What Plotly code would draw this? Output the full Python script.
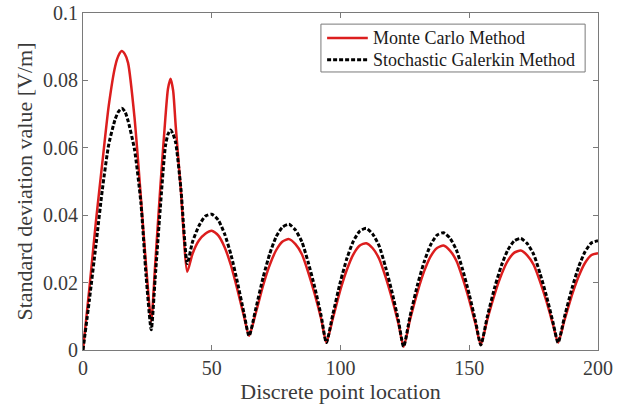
import plotly.graph_objects as go

# ---- data ----
x_points = [0, 2.5, 5, 7.5, 10, 12.5, 13.75, 15, 16.25, 17.5, 20, 22.5, 24.5, 26.5,
            28, 30, 32, 33, 34, 35, 36, 38, 40.5,
            42.5, 45, 47.5, 50, 52.5, 55, 57.5, 60, 62.5, 64.5,
            67, 70, 72.5, 75, 77.5, 80, 82.5, 85, 87.5, 90, 92.5, 94.5,
            97, 100, 102.5, 105, 107.5, 110, 112.5, 115, 117.5, 120, 122.5, 124.5,
            127, 130, 132.5, 135, 137.5, 140, 142.5, 145, 147.5, 150, 152.5, 154.5,
            157, 160, 162.5, 165, 167.5, 170, 172.5, 175, 177.5, 180, 182.5, 184.5,
            187, 190, 192.5, 195, 197.5, 200]

monte_carlo = [0, 0.0185, 0.038, 0.0555, 0.0725, 0.0842, 0.0873, 0.0887, 0.0878, 0.0852, 0.069, 0.045, 0.025, 0.0085,
               0.025, 0.048, 0.069, 0.0775, 0.0805, 0.077, 0.0665, 0.0475, 0.0232,
               0.0285, 0.0325, 0.0345, 0.0354, 0.0340, 0.0305, 0.0250, 0.0178, 0.0100, 0.0042,
               0.0107, 0.0193, 0.0252, 0.0296, 0.0322, 0.0329, 0.0314, 0.0284, 0.0230, 0.0166, 0.0092, 0.0022,
               0.0093, 0.0180, 0.0239, 0.0284, 0.0310, 0.0317, 0.0302, 0.0271, 0.0217, 0.0152, 0.0078, 0.0010,
               0.0090, 0.0175, 0.0234, 0.0278, 0.0303, 0.0310, 0.0295, 0.0265, 0.0212, 0.0148, 0.0075, 0.0015,
               0.0090, 0.0169, 0.0224, 0.0265, 0.0289, 0.0295, 0.0281, 0.0253, 0.0203, 0.0144, 0.0076, 0.0022,
               0.0089, 0.0166, 0.0219, 0.0259, 0.0282, 0.0287]

stochastic_galerkin = [0, 0.0150, 0.031, 0.0475, 0.061, 0.0685, 0.0707, 0.0717, 0.0708, 0.068, 0.0595, 0.0435, 0.022, 0.006,
                       0.021, 0.042, 0.0605, 0.064, 0.0653, 0.064, 0.0615, 0.048, 0.0257,
                       0.032, 0.0368, 0.0397, 0.0403, 0.0386, 0.0344, 0.0282, 0.0200, 0.0110, 0.0042,
                       0.0119, 0.0217, 0.0285, 0.0336, 0.0365, 0.0373, 0.0356, 0.0321, 0.0259, 0.0186, 0.0101, 0.0022,
                       0.0105, 0.0204, 0.0272, 0.0323, 0.0353, 0.0361, 0.0344, 0.0309, 0.0246, 0.0172, 0.0087, 0.0010,
                       0.0100, 0.0196, 0.0262, 0.0312, 0.0341, 0.0348, 0.0332, 0.0297, 0.0237, 0.0165, 0.0083, 0.0015,
                       0.0099, 0.0189, 0.0251, 0.0297, 0.0324, 0.0331, 0.0316, 0.0284, 0.0227, 0.0160, 0.0083, 0.0022,
                       0.0099, 0.0186, 0.0247, 0.0292, 0.0318, 0.0324]

x_tick_values = [0, 50, 100, 150, 200]
x_tick_labels = ["0", "50", "100", "150", "200"]
y_tick_values = [0, 0.02, 0.04, 0.06, 0.08, 0.1]
y_tick_labels = ["0", "0.02", "0.04", "0.06", "0.08", "0.1"]

series_names = ["Monte Carlo Method", "Stochastic Galerkin Method"]

FONT = "Liberation Serif, Times New Roman, serif"
AXIS_GRAY = "#7a7a7a"
TEXT_GRAY = "#3a3a3a"
MC_COLOR = "#dc1e1e"
SG_COLOR = "#000000"
SG_DASH = "4px,2px"

fig = go.Figure()
fig.add_trace(go.Scatter(x=x_points, y=monte_carlo, mode="lines", name=series_names[0],
                         line=dict(color=MC_COLOR, width=2.5, shape="spline", smoothing=0.6)))
fig.add_trace(go.Scatter(x=x_points, y=stochastic_galerkin, mode="lines", name=series_names[1],
                         line=dict(color=SG_COLOR, width=3, dash=SG_DASH, shape="spline", smoothing=0.6)))

axis_common = dict(showline=True, linecolor=AXIS_GRAY, linewidth=1, mirror="ticks",
                   ticks="inside", ticklen=5, tickcolor=AXIS_GRAY, tickwidth=1,
                   showgrid=False, zeroline=False,
                   tickfont=dict(family=FONT, size=20, color=TEXT_GRAY))

fig.update_xaxes(range=[0, 200], tickvals=x_tick_values, ticktext=x_tick_labels,
                 title=dict(text="Discrete point location", font=dict(family=FONT, size=22, color=TEXT_GRAY),
                            standoff=2),
                 **axis_common)
fig.update_yaxes(range=[0, 0.1], tickvals=y_tick_values, ticktext=y_tick_labels,
                 title=dict(text="Standard deviation value [V/m]", font=dict(family=FONT, size=22, color=TEXT_GRAY),
                            standoff=4),
                 **axis_common)

# hand-built legend box (paper coordinates = plot area fractions)
leg_x0, leg_x1, leg_y0, leg_y1 = 0.462, 0.975, 0.825, 0.967
row_y = [0.926, 0.861]
sample_x0, sample_x1, text_x = 0.474, 0.553, 0.560
shapes = [dict(type="rect", xref="paper", yref="paper", x0=leg_x0, x1=leg_x1, y0=leg_y0, y1=leg_y1,
               line=dict(color=AXIS_GRAY, width=1), fillcolor="white", layer="above")]
shapes.append(dict(type="line", xref="paper", yref="paper", x0=sample_x0, x1=sample_x1,
                   y0=row_y[0], y1=row_y[0], line=dict(color=MC_COLOR, width=2.5), layer="above"))
shapes.append(dict(type="line", xref="paper", yref="paper", x0=sample_x0, x1=sample_x1,
                   y0=row_y[1], y1=row_y[1], line=dict(color=SG_COLOR, width=3, dash=SG_DASH), layer="above"))
annotations = [dict(xref="paper", yref="paper", x=text_x, y=ry, text=name, showarrow=False,
                    xanchor="left", yanchor="middle",
                    font=dict(family=FONT, size=18, color="#1a1a1a"))
               for ry, name in zip(row_y, series_names)]

fig.update_layout(
    width=629, height=409,
    margin=dict(l=83, r=31, t=13, b=59, autoexpand=False),
    plot_bgcolor="white", paper_bgcolor="white",
    showlegend=False,
    shapes=shapes,
    annotations=annotations,
)

fig.write_html("out.html", config={"displayModeBar": False},
               post_script="document.body.style.margin='0';document.body.style.overflow='hidden';")
